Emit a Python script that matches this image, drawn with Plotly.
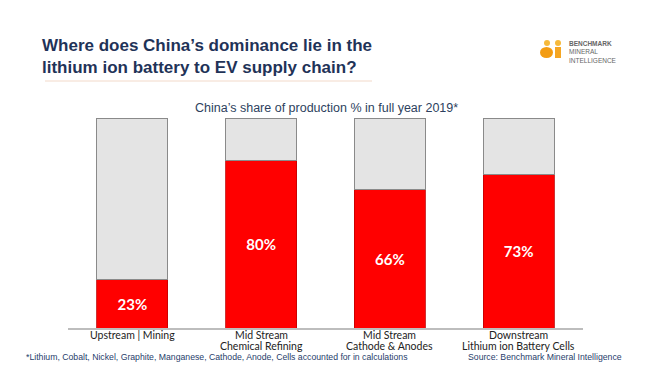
import plotly.graph_objects as go

categories = ["Upstream | Mining", "Mid Stream Chemical Refining",
              "Mid Stream Cathode & Anodes", "Downstream Lithium ion Battery Cells"]
label_line1 = ["Upstream | Mining", "Mid Stream", "Mid Stream", "Downstream"]
label_line2 = ["", "Chemical Refining", "Cathode & Anodes", "Lithium ion Battery Cells"]
china_share = [23, 80, 66, 73]
rest_share = [100 - v for v in china_share]

W, H = 667, 385
L, R, T, B = 68, 583, 118, 328

def px(x):
    return (x - L) / (R - L)

def py(y):
    return (B - y) / (B - T)

fig = go.Figure()
fig.add_trace(go.Bar(
    x=categories, y=china_share,
    marker=dict(color="#ff0000", line=dict(color="#c00000", width=0.8)),
    text=[f"{v}%" for v in china_share], textposition="inside",
    insidetextanchor="middle",
    textfont=dict(family="Lato", size=15, color="white", weight="bold"),
    width=0.55, hoverinfo="skip"))
fig.add_trace(go.Bar(
    x=categories, y=rest_share,
    marker=dict(color="#e4e4e4", line=dict(color="#8a8a8a", width=1)),
    width=0.55, hoverinfo="skip"))

fig.update_layout(
    width=W, height=H, barmode="stack", showlegend=False,
    plot_bgcolor="white", paper_bgcolor="white",
    margin=dict(l=L, r=W - R, t=T, b=H - B, pad=0),
    xaxis=dict(showline=True, linecolor="#bdbdbd", linewidth=1.5, ticks="",
               showticklabels=False, showgrid=False),
    yaxis=dict(range=[0, 100], visible=False, showgrid=False),
)

ann = []
for c, l1, l2 in zip(categories, label_line1, label_line2):
    ann.append(dict(text=l1, x=c, xref="x", y=py(335), yref="paper", xanchor="center",
                    yanchor="middle", showarrow=False,
                    font=dict(family="Lato", size=10.5, color="#222222")))
    if l2:
        ann.append(dict(text=l2, x=c, xref="x", y=py(345.5), yref="paper", xanchor="center",
                        yanchor="middle", showarrow=False,
                        font=dict(family="Lato", size=10.5, color="#222222")))
ann.append(dict(text="<b>Where does China\u2019s dominance lie in the<br>lithium ion battery to EV supply chain?</b>",
                x=px(40), y=py(57), xref="paper", yref="paper", xanchor="left", yanchor="middle",
                align="left", showarrow=False,
                font=dict(family="Liberation Sans", size=17, color="#1f3358")))
ann.append(dict(text="China\u2019s share of production % in full year 2019*",
                x=px(326), y=py(108), xref="paper", yref="paper", xanchor="center", yanchor="middle",
                showarrow=False, font=dict(family="Liberation Sans", size=12.5, color="#2d3f5e")))
ann.append(dict(text="*Lithium, Cobalt, Nickel, Graphite, Manganese, Cathode, Anode, Cells accounted for in calculations",
                x=px(24), y=py(357), xref="paper", yref="paper", xanchor="left", yanchor="middle",
                showarrow=False, font=dict(family="Liberation Sans", size=8.7, color="#27406b")))
ann.append(dict(text="Source: Benchmark Mineral Intelligence",
                x=px(466), y=py(357), xref="paper", yref="paper", xanchor="left", yanchor="middle",
                showarrow=False, font=dict(family="Liberation Sans", size=8.7, color="#27406b")))
ann.append(dict(text="<b>BENCHMARK</b><br>MINERAL<br>INTELLIGENCE",
                x=px(567), y=py(52), xref="paper", yref="paper", xanchor="left", yanchor="middle",
                align="left", showarrow=False,
                font=dict(family="Liberation Sans", size=6.5, color="#666666")))
fig.update_layout(annotations=ann)

shapes = []
shapes.append(dict(type="line", xref="paper", yref="paper", x0=px(45), x1=px(372), y0=py(81), y1=py(81),
                   line=dict(color="#f2d9c9", width=1)))
# logo glyph
shapes.append(dict(type="circle", xref="paper", yref="paper", x0=px(544), x1=px(550), y0=py(46), y1=py(40),
                   fillcolor="#f6b93b", line=dict(width=0)))
shapes.append(dict(type="circle", xref="paper", yref="paper", x0=px(540), x1=px(553), y0=py(58), y1=py(47),
                   fillcolor="#f39c12", line=dict(width=0)))
shapes.append(dict(type="circle", xref="paper", yref="paper", x0=px(555), x1=px(561), y0=py(46), y1=py(40),
                   fillcolor="#f6b93b", line=dict(width=0)))
shapes.append(dict(type="rect", xref="paper", yref="paper", x0=px(555), x1=px(561), y0=py(58), y1=py(47),
                   fillcolor="#f5a623", line=dict(width=0)))
fig.update_layout(shapes=shapes)

fig.write_html("out.html", config={"displayModeBar": False},
               post_script="document.body.style.margin='0';")
